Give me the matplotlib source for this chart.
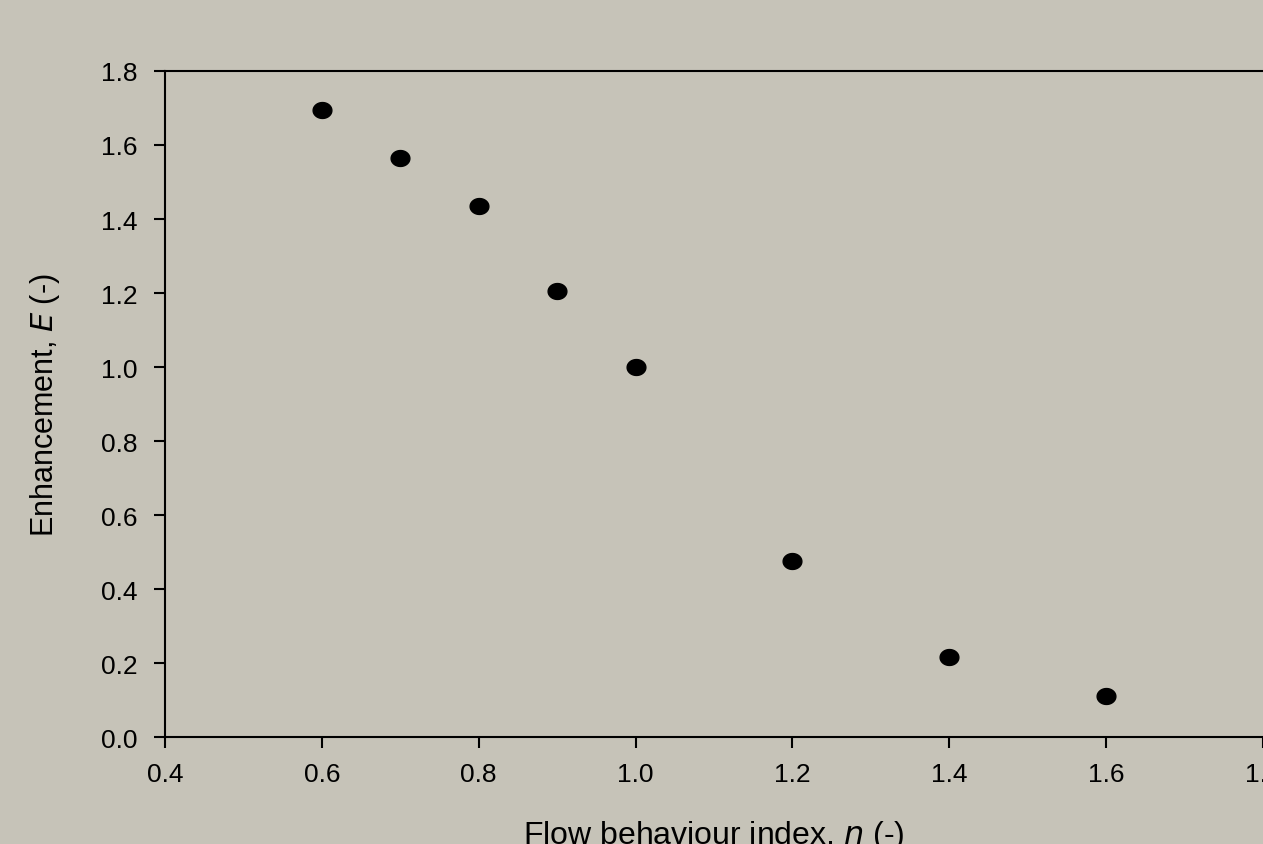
import matplotlib.pyplot as plt
from matplotlib.path import Path
import numpy as np

# flow behaviour index n and enhancement E
n_index = [0.6, 0.7, 0.8, 0.9, 1.0, 1.2, 1.4, 1.6]
enhancement = [1.695, 1.565, 1.435, 1.205, 1.0, 0.476, 0.216, 0.111]

x_ticks = [0.4, 0.6, 0.8, 1.0, 1.2, 1.4, 1.6, 1.8]
y_ticks = [0.0, 0.2, 0.4, 0.6, 0.8, 1.0, 1.2, 1.4, 1.6, 1.8]

bg = "#c6c3b8"
plt.rcParams['font.family'] = ['Liberation Sans', 'DejaVu Sans']

# slightly wide dot, like the original
t = np.linspace(0, 2 * np.pi, 60)
ellipse = Path(np.column_stack([1.18 * np.cos(t), np.sin(t)]), closed=True)

fig = plt.figure(figsize=(12.63, 8.45), dpi=100, facecolor=bg)
ax = fig.add_axes([0.1306, 0.1266, 0.8694, 0.7882], facecolor=bg)

ax.plot(n_index, enhancement, linestyle="none", marker=ellipse, markersize=13.5,
        color="black", clip_on=False)

ax.set_xlim(0.4, 1.8)
ax.set_ylim(0.0, 1.8)
ax.set_xticks(x_ticks)
ax.set_yticks(y_ticks)
ax.set_xticklabels([f"{v:.1f}" for v in x_ticks])
ax.set_yticklabels([f"{v:.1f}" for v in y_ticks])

ax.spines["right"].set_visible(False)
for s in ["left", "bottom", "top"]:
    ax.spines[s].set_linewidth(1.5)

ax.tick_params(axis="both", direction="out", length=8, width=1.5,
               labelsize=19, colors="black")
ax.tick_params(axis="y", pad=12)
ax.tick_params(axis="x", pad=10)

ax.set_xlabel("Flow behaviour index, $\\it{n}$ (-)", fontsize=23, labelpad=23)
ax.set_ylabel("Enhancement, $\\it{E}$ (-)", fontsize=22, labelpad=28)

fig.savefig("out.png", dpi=100, facecolor=bg)
